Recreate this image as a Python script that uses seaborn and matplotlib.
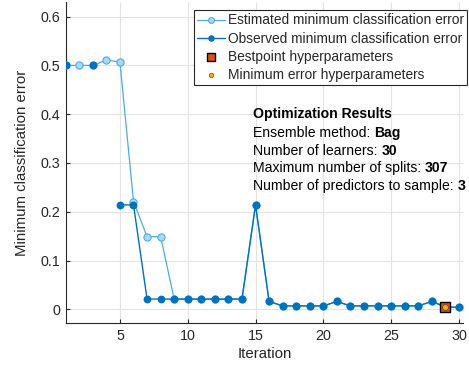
import numpy as np
import pandas as pd
import matplotlib
matplotlib.use("Agg")
import matplotlib.pyplot as plt
import seaborn as sns

# ---------------- data ----------------
iterations = list(range(1, 31))
observed = [0.500, np.nan, 0.500, np.nan, 0.214, 0.214, 0.021, 0.021, 0.021, 0.021,
            0.021, 0.021, 0.021, 0.021, 0.214, 0.016, 0.007, 0.007, 0.007, 0.007,
            0.016, 0.007, 0.007, 0.007, 0.007, 0.007, 0.007, 0.016, 0.005, 0.004]
estimated = [0.500, 0.500, 0.500, 0.511, 0.507, 0.221, 0.149, 0.149, 0.021, 0.021,
             0.021, 0.021, 0.021, 0.021, 0.214, 0.016, 0.007, 0.007, 0.007, 0.007,
             0.016, 0.007, 0.007, 0.007, 0.007, 0.007, 0.007, 0.016, 0.005, 0.004]
best_iter = [29]
best_value = [0.005]
x_ticks = [5, 10, 15, 20, 25, 30]
y_ticks = [0, 0.1, 0.2, 0.3, 0.4, 0.5, 0.6]
legend_labels = ["Estimated minimum classification error",
                 "Observed minimum classification error",
                 "Bestpoint hyperparameters",
                 "Minimum error hyperparameters"]
info_title = "Optimization Results"
info_names = ["Ensemble method:", "Number of learners:",
              "Maximum number of splits:", "Number of predictors to sample:"]
info_values = ["Bag", "30", "307", "3"]

df = pd.DataFrame({"Iteration": iterations, "observed": observed, "estimated": estimated})

# ---------------- style ----------------
sns.set_theme(style="white")
plt.rcParams["font.family"] = ["Liberation Sans", "DejaVu Sans"]
FS = 9.9
FS_INFO = 10.1

C_OBS = "#0072BD"
C_EST_LINE = "#4FAAE3"
C_EST_FACE = "#A8D8F6"
C_BEST = "#D95319"
C_MIN = "#EDB120"

fig = plt.figure(figsize=(4.69, 3.70), dpi=100)
L, R, B, T = 65.7 / 469, 463 / 469, 1 - 323.3 / 370, 1 - 2 / 370
ax = fig.add_axes([L, B, R - L, T - B])

ax.plot(df["Iteration"], df["estimated"], color=C_EST_LINE, lw=0.9, marker="o",
        ms=5.2, mfc=C_EST_FACE, mec=C_EST_LINE, mew=0.8, zorder=3,
        label=legend_labels[0])
ax.plot(df["Iteration"], df["observed"], color=C_OBS, lw=1.0, marker="o",
        ms=4.6, mfc=C_OBS, mec=C_OBS, zorder=4, label=legend_labels[1])

bdf = pd.DataFrame({"Iteration": best_iter, "value": best_value})
sns.scatterplot(data=bdf, x="Iteration", y="value", ax=ax, marker="s", s=42,
                color=C_BEST, edgecolor="black", linewidth=1.0, zorder=5,
                label=legend_labels[2])
sns.scatterplot(data=bdf, x="Iteration", y="value", ax=ax, marker="o", s=17,
                color=C_MIN, edgecolor="#333333", linewidth=0.4, zorder=6,
                label=legend_labels[3])

ax.set_xlim(1, 30.3)
ax.set_ylim(-0.0287, 0.63)
ax.set_xticks(x_ticks)
ax.set_yticks(y_ticks)
ax.set_yticklabels(["0" if v == 0 else f"{v:.1f}" for v in y_ticks])
ax.grid(True, color="#E3E3E3", lw=0.8)
ax.set_axisbelow(True)
for s in ["top", "right"]:
    ax.spines[s].set_visible(False)
for s in ["left", "bottom"]:
    ax.spines[s].set_color("#262626")
    ax.spines[s].set_linewidth(0.8)
ax.tick_params(direction="in", length=3, width=0.8, colors="#262626",
               labelsize=10.3, pad=4, left=True, bottom=True)
ax.set_xlabel("Iteration", fontsize=10.8, color="#262626", labelpad=3)
ax.set_ylabel("Minimum classification error", fontsize=10.8, color="#262626", labelpad=8)

leg = ax.legend(loc="upper right", bbox_to_anchor=(467 / 469, 1 - 10 / 370),
                bbox_transform=fig.transFigure, borderaxespad=0, fontsize=FS,
                frameon=True, fancybox=False, edgecolor="#262626",
                handlelength=2.0, handletextpad=0.2, labelspacing=0.3,
                borderpad=0.25, markerscale=0.8)
leg.get_frame().set_linewidth(0.8)
leg.get_frame().set_facecolor("white")
leg.get_frame().set_alpha(1)

# info text
x0 = 253 / 469
base = [118, 136.7, 154.5, 172.3, 190]
fig.text(x0, 1 - base[0] / 370, info_title, fontsize=FS_INFO, fontweight="bold",
         va="baseline", ha="left", color="black")
for i, (n, v) in enumerate(zip(info_names, info_values)):
    t = fig.text(x0, 1 - base[i + 1] / 370, n, fontsize=FS_INFO, va="baseline",
                 ha="left", color="black")
    ax.annotate(v, xy=(1, 0), xycoords=t, xytext=(2.7, 0), textcoords="offset points",
                fontsize=FS_INFO, fontweight="bold", va="bottom", ha="left", color="black")

fig.savefig("out.png", dpi=100)
